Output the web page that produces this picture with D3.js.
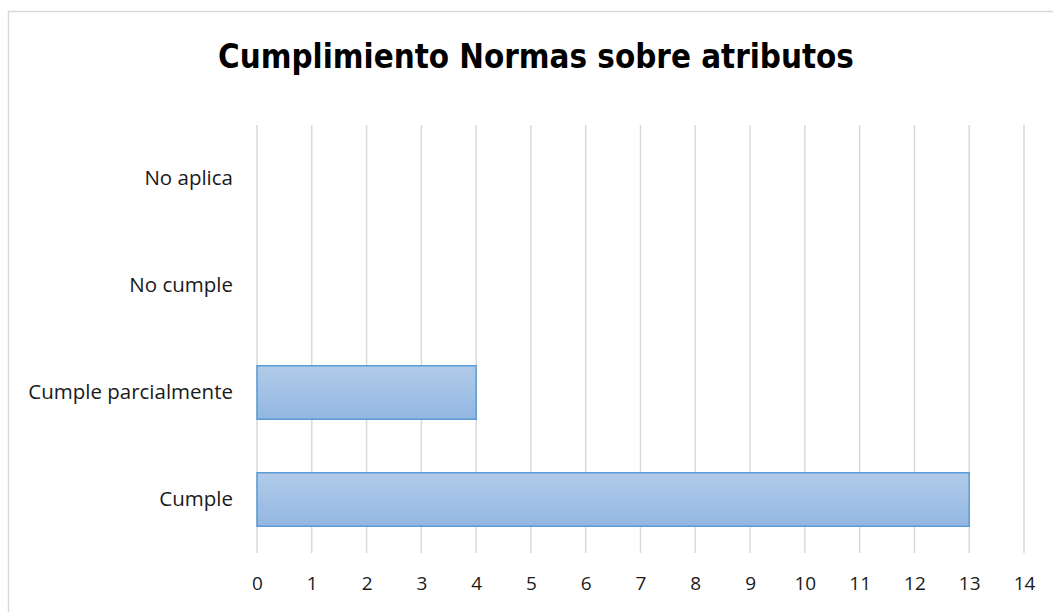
<!DOCTYPE html>
<html>
<head>
<meta charset="utf-8">
<title>Cumplimiento Normas sobre atributos</title>
<script src="https://cdnjs.cloudflare.com/ajax/libs/d3/7.8.5/d3.min.js"></script>
<style>
  body { margin: 0; background: #fff; }
</style>
</head>
<body>
<script>
  var categories = ["Cumple", "Cumple parcialmente", "No cumple", "No aplica"];
  var values = [13, 4, 0, 0];
  var xTicks = d3.range(0, 15);
  var title = "Cumplimiento Normas sobre atributos";

  var W = 1053, H = 612;
  var plotLeft = 257, plotRight = 1024, plotTop = 125, plotBottom = 553;

  var svg = d3.select("body").append("svg")
      .attr("width", W)
      .attr("height", H);

  // chart frame
  svg.append("rect")
      .attr("x", 8.5).attr("y", 11.5)
      .attr("width", W + 10).attr("height", H + 10)
      .attr("fill", "none")
      .attr("stroke", "#d9d9d9")
      .attr("stroke-width", 1.5);

  var grad = svg.append("defs").append("linearGradient")
      .attr("id", "barFill")
      .attr("x1", 0).attr("y1", 0).attr("x2", 0).attr("y2", 1);
  grad.append("stop").attr("offset", "0%").attr("stop-color", "#b1cbe9");
  grad.append("stop").attr("offset", "100%").attr("stop-color", "#92b7e2");

  var x = d3.scaleLinear().domain([0, 14]).range([plotLeft, plotRight]);
  var y = d3.scaleBand()
      .domain(categories.slice().reverse())
      .range([plotTop, plotBottom])
      .paddingInner(0.5)
      .paddingOuter(0.25);

  // vertical gridlines
  svg.append("g")
      .selectAll("line")
      .data(xTicks)
      .enter()
      .append("line")
      .attr("x1", function(d) { return x(d); })
      .attr("x2", function(d) { return x(d); })
      .attr("y1", plotTop)
      .attr("y2", plotBottom)
      .attr("stroke", "#d9d9d9")
      .attr("stroke-width", 1.5);

  // bars
  svg.append("g")
      .selectAll("rect")
      .data(categories.map(function(c, i) { return { cat: c, v: values[i] }; })
                      .filter(function(d) { return d.v > 0; }))
      .enter()
      .append("rect")
      .attr("x", x(0))
      .attr("y", function(d) { return y(d.cat); })
      .attr("width", function(d) { return x(d.v) - x(0); })
      .attr("height", y.bandwidth())
      .attr("fill", "url(#barFill)")
      .attr("stroke", "#5b9bd5")
      .attr("stroke-width", 1.5);

  // x axis labels
  var xAxis = svg.append("g")
      .attr("transform", "translate(0," + plotBottom + ")")
      .call(d3.axisBottom(x).tickValues(xTicks).tickSize(0).tickPadding(24));
  xAxis.select(".domain").remove();
  xAxis.selectAll("text")
      .style("font-size", "19px")
      .style("font-family", "'Open Sans', sans-serif")
      .style("fill", "#1a1a1a");

  // y axis labels
  var yAxis = svg.append("g")
      .attr("transform", "translate(" + plotLeft + ",0)")
      .call(d3.axisLeft(y).tickSize(0).tickPadding(24));
  yAxis.select(".domain").remove();
  yAxis.selectAll("text")
      .style("font-size", "20.5px")
      .style("font-family", "'Open Sans', sans-serif")
      .style("fill", "#1a1a1a");

  // title
  svg.append("text")
      .attr("x", 536)
      .attr("y", 68)
      .attr("text-anchor", "middle")
      .style("font-family", "'DejaVu Sans Condensed', 'DejaVu Sans', sans-serif")
      .style("font-weight", "bold")
      .style("font-size", "32.8px")
      .style("fill", "#000")
      .text(title);
</script>
</body>
</html>
